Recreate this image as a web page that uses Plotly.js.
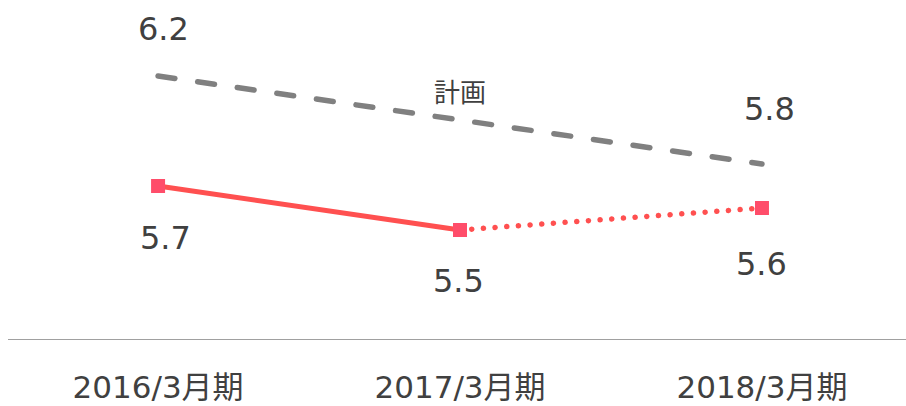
<!DOCTYPE html>
<html><head><meta charset="utf-8">
<script src="https://cdn.plot.ly/plotly-3.0.1.min.js"></script>
<style>
html,body{margin:0;padding:0;background:#fff;}
#chart{width:906px;height:406px;}
.js-line{stroke-linecap:round !important;}
</style></head>
<body><div id="chart"></div>
<script>
const categories = ['2016/3月期', '2017/3月期', '2018/3月期'];
const planCats = ['2016/3月期', '2018/3月期'];
const planValues = [6.2, 5.8];
const actualValues = [5.7, 5.5, 5.6];
const planLabel = '計画';

const FONT = 'Verdana, "DejaVu Sans", "Noto Sans CJK JP", sans-serif';
const txt = '#404040';

const traces = [
  {x: planCats, y: planValues, mode: 'lines', type: 'scatter',
   line: {color: '#808080', width: 5.5, dash: '17px,23px'}, hoverinfo: 'skip'},
  {x: categories.slice(0, 2), y: actualValues.slice(0, 2), mode: 'lines', type: 'scatter',
   line: {color: '#FF5050', width: 5}, hoverinfo: 'skip'},
  {x: categories.slice(1), y: actualValues.slice(1), mode: 'lines', type: 'scatter',
   line: {color: '#FF5050', width: 5.5, dash: '0.1px,11.6px'}, hoverinfo: 'skip'},
  {x: categories, y: actualValues, mode: 'markers', type: 'scatter',
   marker: {symbol: 'square', size: 14, color: '#FF4D6A'}, hoverinfo: 'skip'}
];

const numFont = {family: FONT, size: 32, color: txt};
const ann = [];
const planShifts = [[5, 47], [8, 55]];
planCats.forEach((c, i) => ann.push({x: c, y: planValues[i], text: planValues[i].toFixed(1),
  showarrow: false, xshift: planShifts[i][0], yshift: planShifts[i][1], font: numFont}));
const actShifts = [[7, -52], [-2, -51], [0, -56]];
categories.forEach((c, i) => ann.push({x: c, y: actualValues[i], text: actualValues[i].toFixed(1),
  showarrow: false, xshift: actShifts[i][0], yshift: actShifts[i][1], font: numFont}));
ann.push({x: categories[1], y: (planValues[0] + planValues[1]) / 2, text: planLabel,
  showarrow: false, yshift: 27, font: {family: FONT, size: 26, color: txt}});

const layout = {
  width: 906, height: 406,
  margin: {l: 8, r: 0, t: 0, b: 66},
  paper_bgcolor: '#fff', plot_bgcolor: '#fff',
  showlegend: false,
  xaxis: {type: 'category', categoryarray: categories, range: [-0.497, 2.477],
    showgrid: false, zeroline: false, showline: false, ticks: '',
    tickfont: {family: FONT, size: 31, color: txt}, ticklabelstandoff: 26, fixedrange: true},
  yaxis: {range: [5.0, 6.5455], visible: false, fixedrange: true},
  shapes: [{type: 'line', xref: 'paper', yref: 'y', x0: 0, x1: 1, y0: 5.0, y1: 5.0,
    line: {color: '#A0A0A0', width: 2}}],
  annotations: ann
};
Plotly.newPlot('chart', traces, layout, {displayModeBar: false, staticPlot: true});
</script></body></html>
